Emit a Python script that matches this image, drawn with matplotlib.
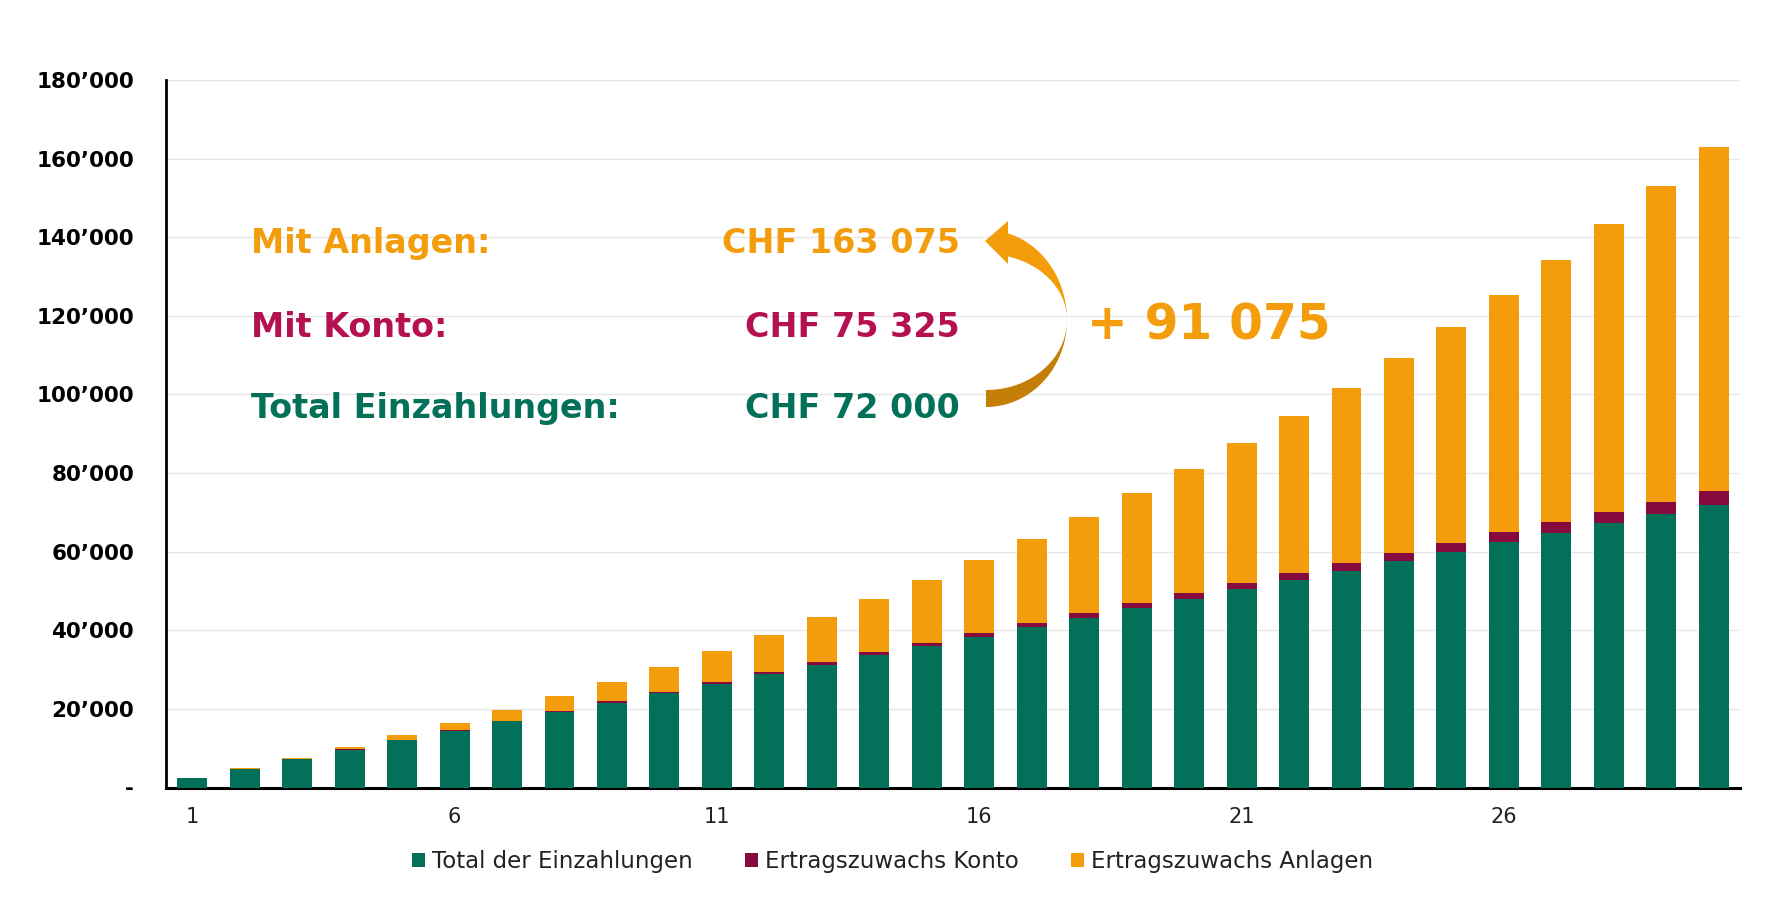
import matplotlib as mpl
mpl.use('Agg')
import matplotlib.pyplot as plt
from matplotlib.patches import Polygon
import numpy as np

# data (CHF)
jahre = list(range(1, 31))
einzahlungen = [2400, 4800, 7200, 9600, 12000, 14400, 16800, 19200, 21600, 24000,
                26400, 28800, 31200, 33600, 36000, 38400, 40800, 43200, 45600, 48000,
                50400, 52800, 55200, 57600, 60000, 62400, 64800, 67200, 69600, 72000]
ertrag_konto = [10, 20, 45, 70, 110, 150, 200, 260, 320, 390,
                470, 560, 650, 750, 860, 970, 1100, 1220, 1360, 1500,
                1650, 1810, 1980, 2150, 2330, 2510, 2710, 2910, 3110, 3325]
ertrag_anlagen = [70, 180, 305, 680, 1240, 1850, 2700, 3790, 4880, 6230,
                  7830, 9420, 11450, 13550, 15890, 18480, 21250, 24330, 27890, 31500,
                  35550, 39890, 44470, 49550, 54850, 60360, 66710, 73270, 80340, 87750]
serien = ['Total der Einzahlungen', 'Ertragszuwachs Konto', 'Ertragszuwachs Anlagen']
yticks = list(range(0, 180001, 20000))
xticks = [1, 6, 11, 16, 21, 26]

GREEN = '#03705A'
MAROON = '#870A3F'
ORANGE = '#F49D0C'
DARK_ORANGE = '#C47F09'
MAGENTA = '#B5104F'

plt.rcParams['font.family'] = ['DejaVu Sans']

W, H = 1771, 917
fig = plt.figure(figsize=(W / 100, H / 100), dpi=100)
ax = fig.add_axes([166 / W, 1 - 787.5 / H, (1740 - 166) / W, (787.5 - 80) / H])

x = np.array(jahre)
g = np.array(einzahlungen)
k = np.array(ertrag_konto)
a = np.array(ertrag_anlagen)
bw = 0.57
ax.bar(x, g, bw, color=GREEN, label=serien[0], zorder=3)
ax.bar(x, k, bw, bottom=g, color=MAROON, label=serien[1], zorder=3)
ax.bar(x, a, bw, bottom=g + k, color=ORANGE, label=serien[2], zorder=3)

ax.set_xlim(0.5, 30.5)
ax.set_ylim(0, 180000)
ax.set_yticks(yticks)
ax.set_yticklabels(['-' if v == 0 else '%d\u2019000' % (v // 1000) for v in yticks],
                   fontsize=15.5, fontweight='bold', color='black')
ax.set_xticks(xticks)
ax.set_xticklabels([str(v) for v in xticks], fontsize=15, color='#222222')
ax.tick_params(axis='y', length=0, pad=23)
ax.tick_params(axis='x', length=0, pad=14)
ax.grid(axis='y', color='#E6E6E6', lw=1, zorder=0)
ax.set_axisbelow(True)
for s in ['top', 'right']:
    ax.spines[s].set_visible(False)
ax.spines['left'].set_linewidth(2)
ax.spines['bottom'].set_linewidth(2.2)

fig.legend(loc='center', bbox_to_anchor=(0.504, 0.06), ncol=3, frameon=False,
           fontsize=16.5, handlelength=0.55, handleheight=0.55, handletextpad=0.3,
           columnspacing=2.3, labelcolor='#222222')

# overlay in pixel coordinates for the annotation block
ov = fig.add_axes([0, 0, 1, 1])
ov.set_xlim(0, W)
ov.set_ylim(H, 0)
ov.set_axis_off()

rows = [('Mit Anlagen:', 'CHF 163 075', ORANGE, 253),
        ('Mit Konto:', 'CHF 75 325', MAGENTA, 337),
        ('Total Einzahlungen:', 'CHF 72 000', GREEN, 418)]
for left, right, col, yb in rows:
    ov.text(251, yb, left, color=col, fontsize=24, fontweight='bold', va='baseline', ha='left')
    ov.text(960, yb, right, color=col, fontsize=24, fontweight='bold', va='baseline', ha='right')

ov.text(1087, 340, '+ 91 075', color=ORANGE, fontsize=35, fontweight='bold',
        va='baseline', ha='left')

# curved arrow (ribbon): lower dark part and upper part with head
cx, cy, rx = 986, 320, 81
t = np.radians(np.linspace(-90, 0, 60))
outer = np.column_stack([cx + rx * np.cos(t), cy - 87 * np.sin(t)])
inner = np.column_stack([cx + rx * np.cos(t), cy - 70 * np.sin(t)])
ov.add_patch(Polygon(np.vstack([outer, inner[::-1]]), closed=True, color=DARK_ORANGE, lw=0))

t = np.radians(np.linspace(0, 77, 60))
outer = np.column_stack([cx + rx * np.cos(t), cy - 90 * np.sin(t)])
inner = np.column_stack([cx + rx * np.cos(t), cy - 66 * np.sin(t)])
ov.add_patch(Polygon(np.vstack([outer, inner[::-1]]), closed=True, color=ORANGE, lw=0))
ov.add_patch(Polygon([(985, 241), (1008, 221), (1008, 264)], closed=True, color=ORANGE, lw=0))

fig.savefig('out.png', dpi=100)
